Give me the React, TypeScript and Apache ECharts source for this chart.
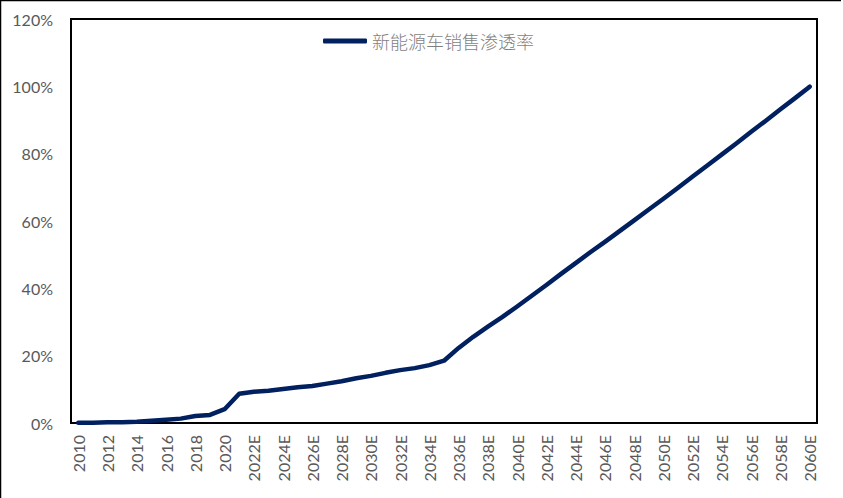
import { useEffect, useRef } from "react";
import * as echarts from "echarts";

// years 2010-2021 actual, 2022E-2060E forecast
const years: string[] = [
  "2010", "2011", "2012", "2013", "2014", "2015", "2016", "2017", "2018", "2019",
  "2020", "2021", "2022E", "2023E", "2024E", "2025E", "2026E", "2027E", "2028E",
  "2029E", "2030E", "2031E", "2032E", "2033E", "2034E", "2035E", "2036E", "2037E",
  "2038E", "2039E", "2040E", "2041E", "2042E", "2043E", "2044E", "2045E", "2046E",
  "2047E", "2048E", "2049E", "2050E", "2051E", "2052E", "2053E", "2054E", "2055E",
  "2056E", "2057E", "2058E", "2059E", "2060E",
];

// 新能源车销售渗透率, %
const penetration: number[] = [
  0.1, 0.1, 0.2, 0.2, 0.4, 0.7, 1.0, 1.3, 2.1, 2.4,
  4.1, 8.7, 9.3, 9.6, 10.1, 10.6, 11.0, 11.7, 12.4,
  13.3, 14.0, 14.9, 15.7, 16.3, 17.2, 18.5, 22.3, 25.6,
  28.6, 31.5, 34.6, 37.8, 41.0, 44.3, 47.5, 50.7, 53.8,
  57.0, 60.2, 63.4, 66.6, 69.9, 73.2, 76.5, 79.8, 83.1,
  86.5, 89.8, 93.2, 96.5, 99.9,
];

const seriesName = "新能源车销售渗透率";

const App = () => {
  const chartRef = useRef<HTMLDivElement>(null);

  useEffect(() => {
    document.body.style.margin = "0";
    if (!chartRef.current) return;
    const chart = echarts.init(chartRef.current, undefined, { renderer: "svg" });

    const option: echarts.EChartsOption = {
      animation: false,
      backgroundColor: "#fff",
      grid: {
        left: 71,
        top: 19,
        right: 26,
        bottom: 75,
        show: true,
        borderColor: "#000",
        borderWidth: 2,
        containLabel: false,
      },
      legend: {
        left: 318,
        top: 27,
        itemWidth: 44,
        itemHeight: 5,
        icon: "roundRect",
        textStyle: {
          fontFamily: "Noto Sans CJK SC",
          fontSize: 18,
          fontWeight: 300,
          color: "#7f7f7f",
        },
        data: [seriesName],
      },
      xAxis: {
        type: "category",
        data: years,
        boundaryGap: true,
        axisLine: { lineStyle: { color: "#000", width: 2 } },
        axisTick: { show: false },
        axisLabel: {
          interval: 1,
          rotate: 90,
          margin: 12,
          color: "#595959",
          fontFamily: "Lato",
          fontSize: 16,
        },
      },
      yAxis: {
        type: "value",
        min: 0,
        max: 120,
        interval: 20,
        axisLine: { show: true, lineStyle: { color: "#000", width: 2 } },
        axisTick: { show: false },
        splitLine: { show: false },
        axisLabel: {
          formatter: "{value}%",
          margin: 18,
          color: "#595959",
          fontFamily: "Lato",
          fontSize: 16,
        },
      },
      series: [
        {
          name: seriesName,
          type: "line",
          data: penetration,
          symbol: "none",
          lineStyle: { color: "#002060", width: 4.5, cap: "round", join: "round" },
          itemStyle: { color: "#002060" },
        },
      ],
      graphic: [
        {
          type: "line",
          shape: { x1: 0, y1: 0.5, x2: 841, y2: 0.5 },
          style: { stroke: "#000", lineWidth: 1.5 },
          silent: true,
        },
        {
          type: "line",
          shape: { x1: 0.5, y1: 0, x2: 0.5, y2: 498 },
          style: { stroke: "#000", lineWidth: 1.5 },
          silent: true,
        },
      ],
    };

    chart.setOption(option);

    const handleResize = () => chart.resize();
    window.addEventListener("resize", handleResize);
    return () => {
      window.removeEventListener("resize", handleResize);
      chart.dispose();
    };
  }, []);

  return <div ref={chartRef} style={{ width: "843px", height: "498px" }} />;
};

export default App;
